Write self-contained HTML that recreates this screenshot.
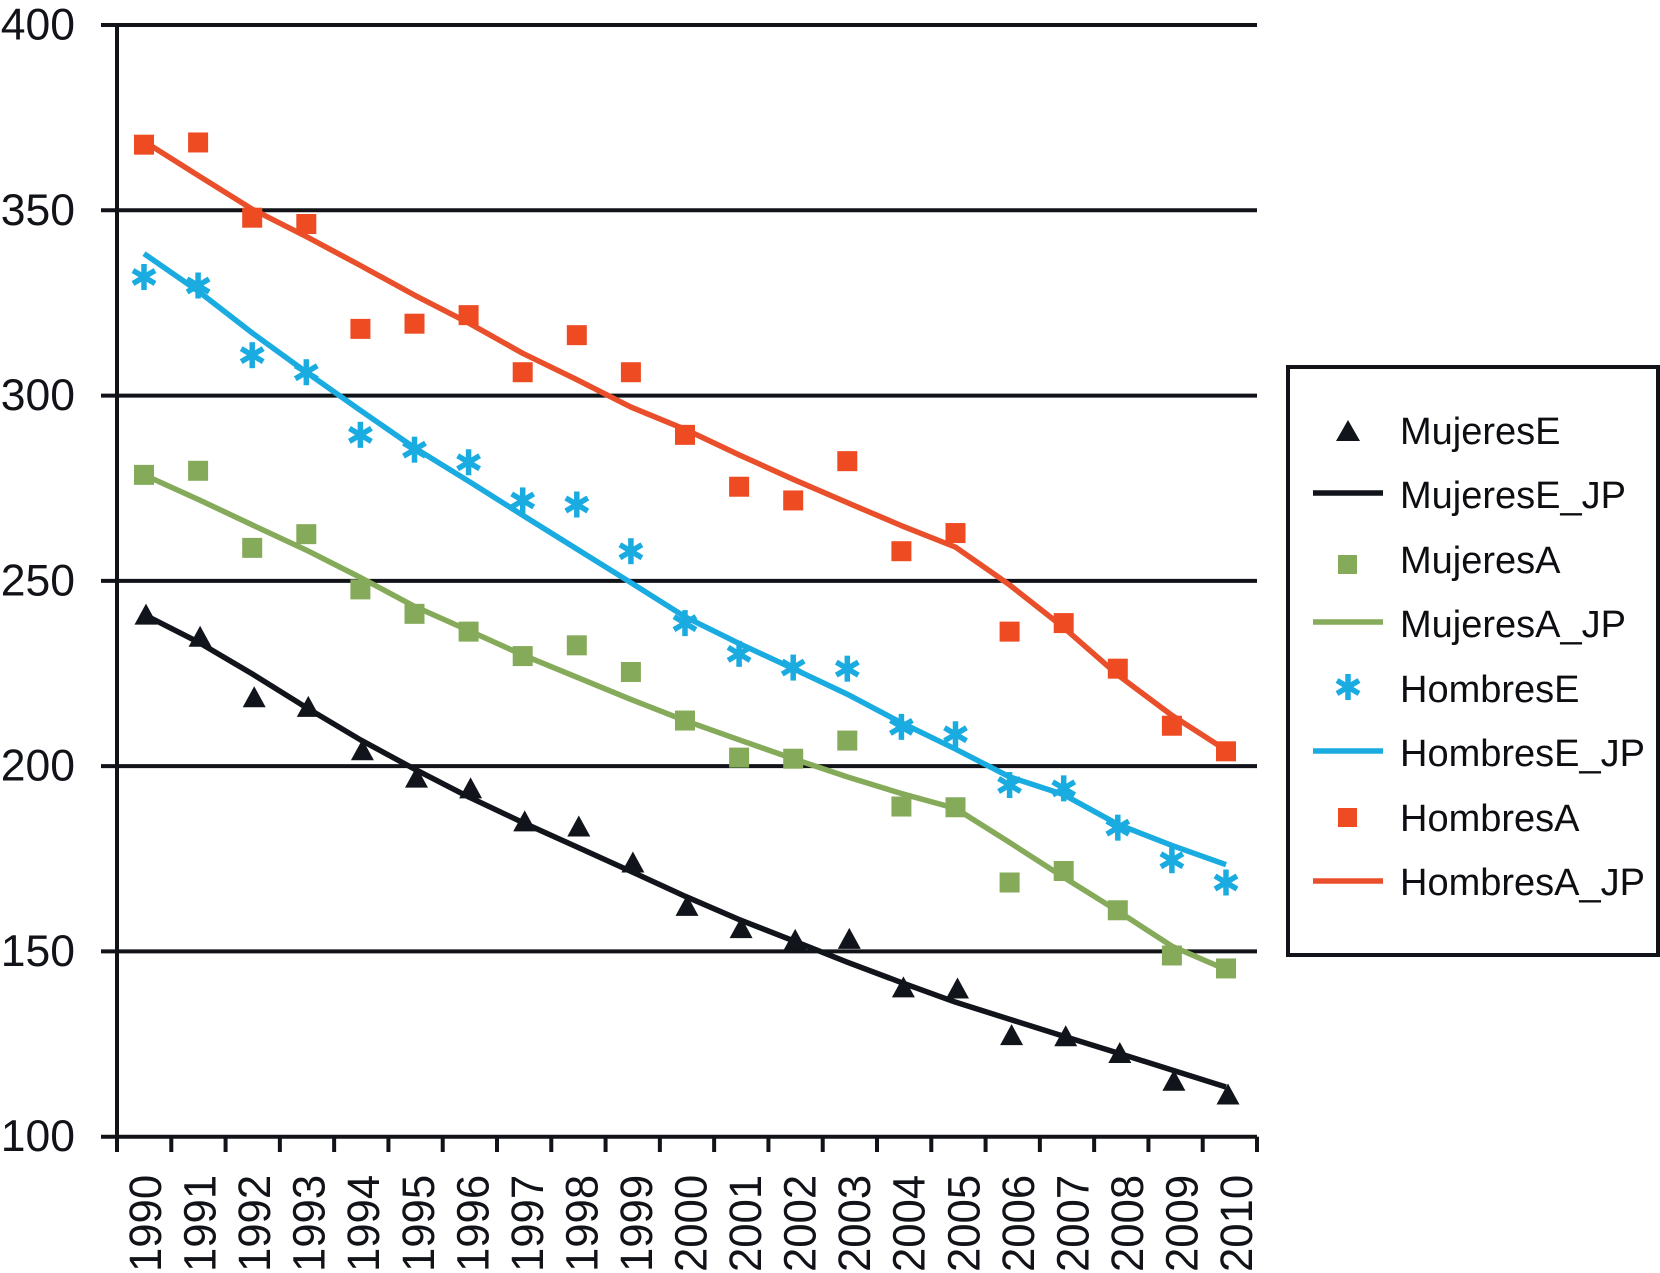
<!DOCTYPE html>
<html lang="es">
<head>
<meta charset="utf-8">
<title>Mujeres y Hombres 1990-2010</title>
<style>
  html, body { margin: 0; padding: 0; background: #ffffff; }
  body { width: 1660px; height: 1273px; overflow: hidden; }
  svg { display: block; font-family: "Liberation Sans", Arial, sans-serif; }
  .axis { stroke: #111318; stroke-width: 4; fill: none; }
  .ytick { font-size: 44.5px; fill: #111318; text-anchor: end; }
  .xtick { font-size: 45px; fill: #111318; }
  .legend-text { font-size: 38px; fill: #0c0e12; }
</style>
</head>
<body>
<svg id="chart" xmlns="http://www.w3.org/2000/svg" width="1660" height="1273" viewBox="0 0 1660 1273">
  <g id="grid"></g>
  <g id="axes"></g>
  <g id="series"></g>
  <g>
    <rect x="1288" y="367" width="370" height="588" fill="#ffffff" stroke="#111318" stroke-width="4"/>
    <g>
      <polygon points="1348,420 1360,441 1336,441" fill="#11141a"/>
      <text class="legend-text" x="1400" y="444">MujeresE</text>
    </g>
    <g>
      <line x1="1313" x2="1383" y1="493" y2="493" stroke="#11141a" stroke-width="5.5"/>
      <text class="legend-text" x="1400" y="508">MujeresE_JP</text>
    </g>
    <g>
      <rect x="1338" y="555" width="19" height="19" fill="#85ab5a"/>
      <text class="legend-text" x="1400" y="573">MujeresA</text>
    </g>
    <g>
      <line x1="1313" x2="1383" y1="622" y2="622" stroke="#85ab5a" stroke-width="5.5"/>
      <text class="legend-text" x="1400" y="637">MujeresA_JP</text>
    </g>
    <g>
      <g stroke="#1aace0" stroke-width="5.5">
        <line x1="1348" x2="1348" y1="674" y2="700"/>
        <line x1="1337" x2="1359" y1="680.5" y2="693.5"/>
        <line x1="1337" x2="1359" y1="693.5" y2="680.5"/>
      </g>
      <text class="legend-text" x="1400" y="702">HombresE</text>
    </g>
    <g>
      <line x1="1313" x2="1383" y1="751" y2="751" stroke="#1aace0" stroke-width="5.5"/>
      <text class="legend-text" x="1400" y="766">HombresE_JP</text>
    </g>
    <g>
      <rect x="1338" y="808" width="19" height="19" fill="#ee4b23"/>
      <text class="legend-text" x="1400" y="831">HombresA</text>
    </g>
    <g>
      <line x1="1313" x2="1383" y1="881" y2="881" stroke="#e84f2a" stroke-width="5.5"/>
      <text class="legend-text" x="1400" y="895">HombresA_JP</text>
    </g>
  </g>
</svg>
<script>
const years = ['1990','1991','1992','1993','1994','1995','1996','1997','1998','1999','2000','2001','2002','2003','2004','2005','2006','2007','2008','2009','2010'];
const yTicks = [100,150,200,250,300,350,400];

const mujeresE = [240.9,234.9,218.6,216,204.3,196.9,194,185.1,183.7,174,162.3,156.3,153.1,153.4,140.3,140,127.4,127.1,122.6,115.1,111.4];
const mujeresEJP = [240.9,233.5,224.9,215.8,207.1,199.2,191.7,184.8,178.2,171.6,164.9,158.6,152.9,147.1,141.6,136.3,131.7,127.1,122.6,118,113.4];
const mujeresA = [278.6,279.7,258.9,262.6,247.7,241.1,236.3,229.7,232.6,225.4,212.3,202.3,202,206.9,189.1,188.9,168.6,171.7,161.1,148.9,145.4];
const mujeresAJP = [278.6,272,265.1,258.3,250.9,243.1,236.6,230,224,218,212.3,207.1,202,197.1,192.6,188.6,179.4,170,160.9,151.4,145.1];
const hombresE = [332,329.7,310.9,306.3,289.4,285.4,282,271.7,270.6,258,238.6,230.3,226.6,226.3,210.6,208.6,194.9,194,183.4,174.6,168.6];
const hombresEJP = [338.3,328.2,316.9,306.3,296,285.9,276.9,267.7,258.6,249.5,240.3,233.1,226.3,219.4,211.7,204.6,197.1,192.3,184.3,178.6,173.4];
const hombresA = [367.7,368.3,348,346.3,318,319.4,321.7,306.3,316.3,306.3,289.4,275.4,271.7,282.3,258,262.9,236.3,238.6,226.3,210.9,204];
const hombresAJP = [368.6,359.4,350.3,342.9,335.1,327.1,319.6,311.4,304.3,296.9,290.9,284,277.4,271.1,264.9,259.1,248.9,237.4,224.6,213.7,204.3];

const NS = 'http://www.w3.org/2000/svg';
const gridLayer = document.getElementById('grid');
const axesLayer = document.getElementById('axes');
const seriesLayer = document.getElementById('series');

const plotTop = 25, plotBottom = 1136.7, plotLeft = 117, plotRight = 1257;
function yScale(v) { return plotBottom - (v - 100) * (plotBottom - plotTop) / 300; }
function xScale(i) { return 144 + i * 54.1; }
function xTickPos(i) { return plotLeft + i * (plotRight - plotLeft) / years.length; }
function xLabelPos(i) { return 145 + i * 54.55; }

function make(tag, parent) {
  const el = document.createElementNS(NS, tag);
  parent.appendChild(el);
  return el;
}
function set(el, k, v) { el.setAttribute(k, v); }

yTicks.forEach(function (t) {
  const y = yScale(t);
  const g = make('line', gridLayer);
  
  
  set(g, 'class', 'axis'); set(g, 'x1', 101); set(g, 'x2', plotRight); set(g, 'y1', y); set(g, 'y2', y);
  const lab = make('text', axesLayer);
  
  
  set(lab, 'class', 'ytick'); set(lab, 'x', 75); set(lab, 'y', y + 14.5);
  lab.textContent = String(t);
});

const yAxis = make('line', axesLayer);


set(yAxis, 'class', 'axis'); set(yAxis, 'x1', plotLeft); set(yAxis, 'x2', plotLeft); set(yAxis, 'y1', plotTop); set(yAxis, 'y2', 1152);

for (let i = 1; i <= years.length; i++) {
  const tick = make('line', axesLayer);
  
  
  const x = xTickPos(i);
  set(tick, 'class', 'axis'); set(tick, 'x1', x); set(tick, 'x2', x); set(tick, 'y1', plotBottom); set(tick, 'y2', 1152);
}

years.forEach(function (yr, i) {
  const lab = make('text', axesLayer);
  
  
  set(lab, 'class', 'xtick');
  set(lab, 'transform', 'translate(' + (xLabelPos(i) + 16) + ',1272) rotate(-90) scale(0.97,1)');
  lab.textContent = yr;
});

function drawLine(values, color, name) {
  const p = make('polyline', seriesLayer);
  
  
  set(p, 'fill', 'none'); set(p, 'stroke', color); set(p, 'stroke-width', 5.5); set(p, 'stroke-linejoin', 'round');
  set(p, 'points', values.map(function (v, i) { return xScale(i) + ',' + yScale(v); }).join(' '));
}

function drawSquares(values, color, name) {
  values.forEach(function (v, i) {
    const r = make('rect', seriesLayer);
    
    
    set(r, 'x', xScale(i) - 10); set(r, 'y', yScale(v) - 10); set(r, 'width', 20); set(r, 'height', 20); set(r, 'fill', color);
  });
}

function drawTriangles(values, color, name) {
  values.forEach(function (v, i) {
    const t = make('polygon', seriesLayer);
    
    
    const x = xScale(i) + 2, y = yScale(v);
    set(t, 'points', x + ',' + (y - 11) + ' ' + (x + 11.5) + ',' + (y + 10) + ' ' + (x - 11.5) + ',' + (y + 10));
    set(t, 'fill', color);
  });
}

function drawAsterisks(values, color, name) {
  values.forEach(function (v, i) {
    const g = make('g', seriesLayer);
    
    
    set(g, 'stroke', color); set(g, 'stroke-width', 5.5);
    const x = xScale(i), y = yScale(v);
    [[0, 13], [11, 6.5], [11, -6.5]].forEach(function (d) {
      const l = make('line', g);
      set(l, 'x1', x - d[0]); set(l, 'x2', x + d[0]); set(l, 'y1', y - d[1]); set(l, 'y2', y + d[1]);
    });
  });
}

drawLine(hombresAJP, '#e84f2a', 'hombresa-jp-line');
drawLine(hombresEJP, '#1aace0', 'hombrese-jp-line');
drawLine(mujeresAJP, '#85ab5a', 'mujeresa-jp-line');
drawLine(mujeresEJP, '#11141a', 'mujerese-jp-line');
drawSquares(hombresA, '#ee4b23', 'hombresa-point');
drawAsterisks(hombresE, '#1aace0', 'hombrese-point');
drawSquares(mujeresA, '#85ab5a', 'mujeresa-point');
drawTriangles(mujeresE, '#11141a', 'mujerese-point');
</script>
</body>
</html>
